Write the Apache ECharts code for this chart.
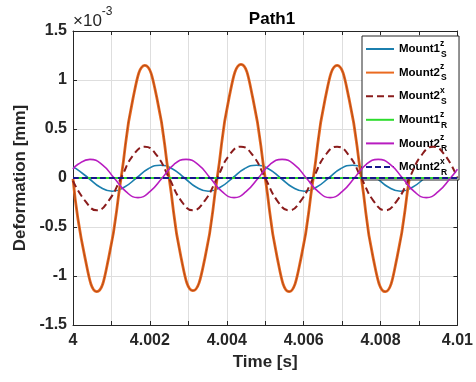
<!DOCTYPE html>
<html><head><meta charset="utf-8">
<script src="https://cdn.jsdelivr.net/npm/echarts@6/dist/echarts.min.js"></script>
<style>html,body{margin:0;padding:0;background:#fff}#c{width:476px;height:382px}</style>
</head><body><div id="c"></div><script>
// time offsets in ms after t = 4 s ; values in units of 1e-3 mm
const tOrange = [0, 0.31, 0.62, 0.93, 1.25, 1.56, 1.87, 2.18, 2.50, 2.81, 3.12, 3.43, 3.75, 4.06, 4.37, 4.68, 5.00, 5.31, 5.62, 5.93, 6.25, 6.56, 6.87, 7.18, 7.50, 7.81, 8.12, 8.43, 8.75, 9.06, 9.37, 9.68, 10.0];
const mount2Sz = [-0.01, -0.81, -1.16, -0.81, 0.00, 0.81, 1.15, 0.82, 0.00, -0.81, -1.15, -0.82, 0.00, 0.82, 1.16, 0.81, 0.00, -0.81, -1.16, -0.82, 0.00, 0.81, 1.15, 0.81, 0.00, -0.82, -1.16, -0.81, 0.00, 0.81, 1.15, 0.81, 0.00];
const mount2Sx = [-0.03, -0.23, -0.33, -0.23, 0.00, 0.23, 0.32, 0.23, 0.00, -0.23, -0.33, -0.23, 0.00, 0.23, 0.32, 0.23, 0.00, -0.23, -0.33, -0.23, 0.00, 0.23, 0.32, 0.23, 0.00, -0.23, -0.33, -0.23, 0.00, 0.23, 0.32, 0.23, 0.00];
const tBlue = [0, 0.08, 0.40, 0.71, 1.02, 1.33, 1.65, 1.96, 2.27, 2.58, 2.90, 3.21, 3.52, 3.83, 4.15, 4.46, 4.77, 5.08, 5.40, 5.71, 6.02, 6.33, 6.65, 6.96, 7.27, 7.58, 7.90, 8.21, 8.52, 8.83, 9.15, 9.46, 9.77, 10.0];
const mount1Sz = [0.11, 0.095, 0, -0.095, -0.135, -0.095, 0, 0.095, 0.13, 0.095, 0, -0.095, -0.135, -0.095, 0, 0.095, 0.13, 0.095, 0, -0.095, -0.135, -0.095, 0, 0.095, 0.13, 0.095, 0, -0.095, -0.135, -0.095, 0, 0.095, 0.13, 0.11];
const tMag = [0, 0.13, 0.44, 0.75, 1.07, 1.38, 1.69, 2.00, 2.32, 2.63, 2.94, 3.25, 3.57, 3.88, 4.19, 4.50, 4.82, 5.13, 5.44, 5.75, 6.07, 6.38, 6.69, 7.00, 7.32, 7.63, 7.94, 8.25, 8.57, 8.88, 9.19, 9.50, 9.82, 10.0];
const mount2Rz = [0.09, 0.14, 0.19, 0.14, 0, -0.14, -0.2, -0.14, 0, 0.14, 0.19, 0.14, 0, -0.14, -0.2, -0.14, 0, 0.14, 0.19, 0.14, 0, -0.14, -0.2, -0.14, 0, 0.14, 0.19, 0.14, 0, -0.14, -0.2, -0.14, 0, 0.09];
const tFlat = [0, 10];
const mount1Rz = [0, 0];
const mount2Rx = [0, 0];

const legendBase = ['Mount1', 'Mount2', 'Mount2', 'Mount1', 'Mount2', 'Mount2'];
const legendSup = ['z', 'z', 'x', 'z', 'z', 'x'];
const legendSub = ['S', 'S', 'S', 'R', 'R', 'R'];
const seriesNames = legendBase.map((b, i) => b + '_' + legendSub[i] + '^' + legendSup[i]);

const xTicksMajor = 0.002; // labelled every 2 ms
const yTicks = [-1.5, -1, -0.5, 0, 0.5, 1, 1.5];

function pairs(ts, vs) { return ts.map((t, i) => [4 + t / 1000, vs[i]]); }

const FONT = '"Liberation Sans", Arial, Helvetica, sans-serif';
const AX = '#262626';

const chart = echarts.init(document.getElementById('c'), null, {renderer: 'canvas'});

function line(name, ts, vs, color, width, type, z) {
  return {
    name: name, type: 'line', data: pairs(ts, vs), smooth: 0.5, symbol: 'none',
    lineStyle: {color: color, width: width, type: type || 'solid'},
    itemStyle: {color: color}, z: z || 2, animation: false, clip: true
  };
}

const series = [
  line(seriesNames[0], tBlue, mount1Sz, '#1b7fae', 1.6, 'solid', 2),
  line(seriesNames[1], tOrange, mount2Sz, '#ea6a20', 2.8, 'solid', 3),
  line('_overlay', tOrange, mount2Sz, '#8c3614', 0.6, 'solid', 3),
  line(seriesNames[2], tOrange, mount2Sx, '#8a1c1c', 2, [7, 4], 4),
  line(seriesNames[3], tFlat, mount1Rz, '#2ddc2d', 2, 'solid', 5),
  line(seriesNames[4], tMag, mount2Rz, '#b81cc0', 1.6, 'solid', 6),
  line(seriesNames[5], tFlat, mount2Rx, '#16168c', 2, [6, 3], 7)
];

chart.setOption({
  backgroundColor: '#fff',
  animation: false,
  textStyle: {fontFamily: FONT},
  title: {
    text: 'Path1', left: 267, top: 6, textAlign: 'center',
    textStyle: {fontFamily: FONT, fontWeight: 'bold', fontSize: 17, color: '#000'}
  },
  grid: {left: 73, right: 15, top: 31, bottom: 57, containLabel: false},
  legend: {
    data: seriesNames.map((n, i) => ({name: n, itemStyle: {opacity: 0}})),
    orient: 'vertical', left: 362, top: 36,
    backgroundColor: '#fff', borderColor: AX, borderWidth: 1,
    padding: [3, 12, 3, 3], itemGap: 3.6, itemWidth: 28, itemHeight: 10,
    selectedMode: false,
    formatter: function (name) {
      const i = seriesNames.indexOf(name);
      return '{m|' + legendBase[i] + '}{p|' + legendSup[i] + '}{q|' + legendSub[i] + '}';
    },
    textStyle: {
      fontFamily: FONT, color: '#000',
      rich: {
        m: {fontFamily: FONT, fontSize: 11.5, fontWeight: 'bold', lineHeight: 20, color: '#000'},
        p: {fontFamily: FONT, fontSize: 8.5, fontWeight: 'bold', lineHeight: 12, verticalAlign: 'top', width: 1, color: '#000'},
        q: {fontFamily: FONT, fontSize: 8.5, fontWeight: 'bold', lineHeight: 10, verticalAlign: 'bottom', color: '#000'}
      }
    }
  },
  xAxis: [{
    type: 'value', min: 4, max: 4.01, interval: 0.001,
    name: 'Time [s]', nameLocation: 'middle', nameGap: 29,
    nameTextStyle: {fontFamily: FONT, fontWeight: 'bold', fontSize: 17, color: AX},
    axisLine: {show: true, onZero: false, lineStyle: {color: AX, width: 1}},
    axisTick: {show: true, inside: true, length: 4, lineStyle: {color: AX}},
    axisLabel: {
      margin: 8, fontFamily: FONT, fontWeight: 'bold', fontSize: 16, color: AX,
      formatter: function (v) {
        const k = Math.round((v - 4) * 1000);
        if (k % Math.round(xTicksMajor * 1000) !== 0) return '';
        return String(parseFloat((4 + k / 1000).toFixed(3)));
      }
    },
    splitLine: {show: true, lineStyle: {color: '#dedede', width: 1}}
  }, {
    type: 'value', min: 4, max: 4.01, interval: 0.001, position: 'top',
    axisLine: {show: true, onZero: false, lineStyle: {color: AX, width: 1}},
    axisTick: {show: true, inside: true, length: 4, lineStyle: {color: AX}},
    axisLabel: {show: false}, splitLine: {show: false}
  }],
  yAxis: [{
    type: 'value', min: yTicks[0], max: yTicks[yTicks.length - 1], interval: 0.5,
    name: 'Deformation [mm]', nameLocation: 'middle', nameGap: 43, nameRotate: 90,
    nameTextStyle: {fontFamily: FONT, fontWeight: 'bold', fontSize: 17, color: AX},
    axisLine: {show: true, onZero: false, lineStyle: {color: AX, width: 1}},
    axisTick: {show: true, inside: true, length: 4, lineStyle: {color: AX}},
    axisLabel: {margin: 6, fontFamily: FONT, fontWeight: 'bold', fontSize: 16, color: AX},
    splitLine: {show: true, lineStyle: {color: '#dedede', width: 1}}
  }, {
    type: 'value', min: yTicks[0], max: yTicks[yTicks.length - 1], interval: 0.5, position: 'right',
    axisLine: {show: true, onZero: false, lineStyle: {color: AX, width: 1}},
    axisTick: {show: true, inside: true, length: 4, lineStyle: {color: AX}},
    axisLabel: {show: false}, splitLine: {show: false}
  }],
  graphic: [{
    type: 'text', left: 73, top: 6,
    style: {
      text: '{a|×10}{b|-3}',
      font: '16px ' + FONT,
      rich: {
        a: {fontFamily: FONT, fontSize: 17, fill: AX, lineHeight: 24, verticalAlign: 'bottom'},
        b: {fontFamily: FONT, fontSize: 12, fill: AX, lineHeight: 24, verticalAlign: 'top'}
      }
    }
  }],
  series: series
});
</script></body></html>
